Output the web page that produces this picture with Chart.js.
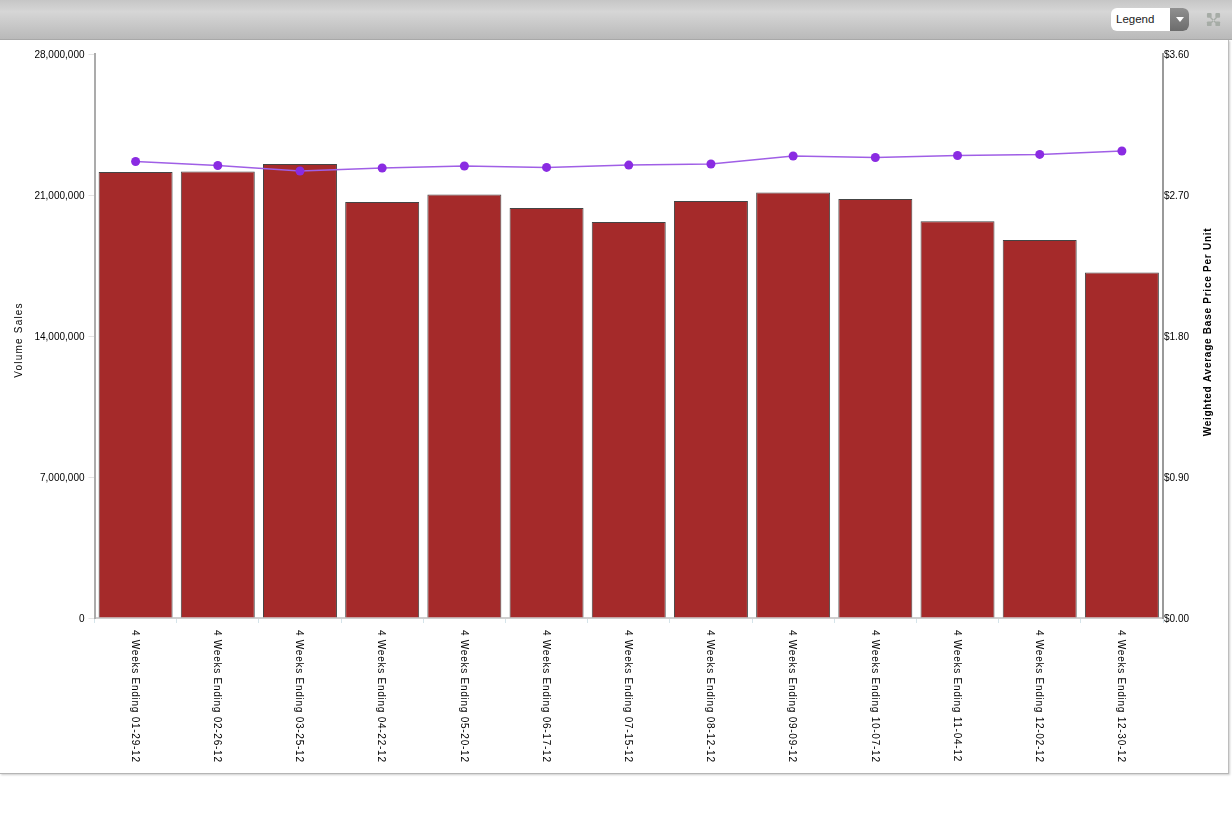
<!DOCTYPE html>
<html>
<head>
<title>Volume Sales and Weighted Average Base Price</title>
<script src="https://cdn.jsdelivr.net/npm/chart.js"></script>
<style>
  html, body { margin: 0; padding: 0; background: #fff; overflow: hidden; }
  body { width: 1232px; height: 834px; position: relative; font-family: "Liberation Sans", Arial, sans-serif; }
  #panel { position: absolute; left: 0; top: 40px; width: 1228px; height: 733px; background: #fff;
    border-right: 1px solid #bdbdbd; border-bottom: 1px solid #b5b5b5; box-shadow: 1px 1px 2px #ccc; }
  #header { position: absolute; left: 0; top: 0; width: 1232px; height: 40px;
    background: linear-gradient(#c6c6c6, #d6d6d6 30%, #b9b9b9); border-bottom: 1px solid #a8a8a8; box-sizing: border-box; }
  #legend { position: absolute; left: 1111px; top: 8px; width: 78px; height: 23px; background: #fff;
    border-radius: 6px; overflow: hidden; font-size: 11.5px; line-height: 23px; text-indent: 5px; color: #222; }
  #legend i { position: absolute; right: 0; top: 0; width: 19px; height: 23px; background: linear-gradient(#909090, #6c6c6c); }
  #legend i:after { content: ""; position: absolute; left: 6px; top: 9px; border: 4px solid transparent; border-top: 5px solid #fff; }
  #collapse { position: absolute; left: 1206px; top: 12px; width: 15px; height: 15px; }
  canvas { position: absolute; left: 0; top: 0; }
</style>
</head>
<body>
<div id="panel"></div>
<div id="header">
  <div id="legend">Legend<i></i></div>
  <svg id="collapse" viewBox="0 0 16 16"><g fill="#a6aca6"><rect x="1" y="1" width="5" height="5" rx="1"/><rect x="10" y="1" width="5" height="5" rx="1"/><rect x="1" y="10" width="5" height="5" rx="1"/><rect x="10" y="10" width="5" height="5" rx="1"/><path d="M5 5l6 6-1 1-6-6zM11 5l-6 6 1 1 6-6z"/></g></svg>
</div>
<canvas id="chart" width="1232" height="834" style="width:1232px;height:834px"></canvas>
<script>
const categories = ['4 Weeks Ending 01-29-12', '4 Weeks Ending 02-26-12', '4 Weeks Ending 03-25-12', '4 Weeks Ending 04-22-12',
  '4 Weeks Ending 05-20-12', '4 Weeks Ending 06-17-12', '4 Weeks Ending 07-15-12', '4 Weeks Ending 08-12-12',
  '4 Weeks Ending 09-09-12', '4 Weeks Ending 10-07-12', '4 Weeks Ending 11-04-12', '4 Weeks Ending 12-02-12', '4 Weeks Ending 12-30-12'];
const volumeSales = [22140000, 22170000, 22540000, 20650000, 21020000, 20350000, 19660000, 20700000, 21120000, 20800000, 19700000, 18770000, 17150000];
const basePrice = [2.914, 2.888, 2.853, 2.872, 2.885, 2.876, 2.891, 2.898, 2.949, 2.939, 2.952, 2.959, 2.981];
const volumeTicks = [0, 7000000, 14000000, 21000000, 28000000];
const priceTicks = [0, 0.9, 1.8, 2.7, 3.6];
const leftTitle = 'Volume Sales';
const rightTitle = 'Weighted Average Base Price Per Unit';

// Chart.js can't rotate labels top-to-bottom with the right anchor, and has no letter spacing
function spacedText(ctx, text, x, y, angle, align, font, spacing) {
  ctx.save();
  ctx.translate(x, y);
  ctx.rotate(angle);
  ctx.font = font;
  ctx.letterSpacing = spacing;
  ctx.textAlign = align;
  ctx.textBaseline = 'middle';
  ctx.fillStyle = '#000';
  ctx.fillText(text, 0, 0);
  ctx.restore();
}

const textPlugin = {
  id: 'rotatedText',
  afterDraw(chart) {
    const ctx = chart.ctx;
    const x = chart.scales.x;
    categories.forEach((label, i) => {
      spacedText(ctx, label, x.getPixelForTick(i) - 1, 630, Math.PI / 2, 'left', '10px "Liberation Sans"', '0.75px');
    });
    spacedText(ctx, leftTitle, 19, 340, -Math.PI / 2, 'center', '10px "Liberation Sans"', '1.2px');
    spacedText(ctx, rightTitle, 1208, 332, -Math.PI / 2, 'center', 'bold 10px "Liberation Sans"', '0.75px');
  }
};

new Chart(document.getElementById('chart'), {
  data: {
    labels: categories,
    datasets: [
      {
        type: 'line', label: 'Weighted Average Base Price Per Unit', data: basePrice, yAxisID: 'y1', order: 1,
        borderColor: '#a05fe6', borderWidth: 1.5, tension: 0,
        pointRadius: 4.5, pointBackgroundColor: '#8a2be2', pointBorderColor: '#8a2be2', pointBorderWidth: 0
      },
      {
        type: 'bar', label: 'Volume Sales', data: volumeSales, yAxisID: 'y', order: 2,
        backgroundColor: '#a52a2a', borderColor: '#444', borderWidth: 1,
        barPercentage: 0.9, categoryPercentage: 1
      }
    ]
  },
  options: {
    responsive: false,
    animation: false,
    devicePixelRatio: 1,
    layout: { padding: { top: 54, left: 0, right: 0, bottom: 0 } },
    plugins: { legend: { display: false }, tooltip: { enabled: false } },
    scales: {
      x: {
        offset: true,
        grid: { offset: true, drawOnChartArea: false, drawTicks: true, tickLength: 5, tickColor: '#d5e4ea' },
        border: { color: '#cfcfcf', width: 2 },
        ticks: { display: false },
        afterFit(scale) { scale.height = 216; }
      },
      y: {
        position: 'left', min: 0, max: 28000000,
        afterBuildTicks(scale) { scale.ticks = volumeTicks.map(v => ({ value: v })); },
        grid: { drawOnChartArea: false, tickLength: 6, tickColor: '#e4e4e4' },
        border: { color: '#ababab', width: 2 },
        ticks: {
          font: { family: 'Liberation Sans', size: 10 }, color: '#000', padding: 4, labelOffset: 1,
          callback: v => v.toLocaleString('en-US')
        },
        afterFit(scale) { scale.width = 94.5; }
      },
      y1: {
        position: 'right', min: 0, max: 3.6,
        afterBuildTicks(scale) { scale.ticks = priceTicks.map(v => ({ value: v })); },
        grid: { drawOnChartArea: false, drawTicks: false },
        border: { color: '#9a9a9a', width: 2 },
        ticks: {
          font: { family: 'Liberation Sans', size: 10 }, color: '#000', padding: 1, labelOffset: 1,
          callback: v => '$' + v.toFixed(2)
        },
        afterFit(scale) { scale.width = 69; }
      }
    }
  },
  plugins: [textPlugin]
});
</script>
</body>
</html>
